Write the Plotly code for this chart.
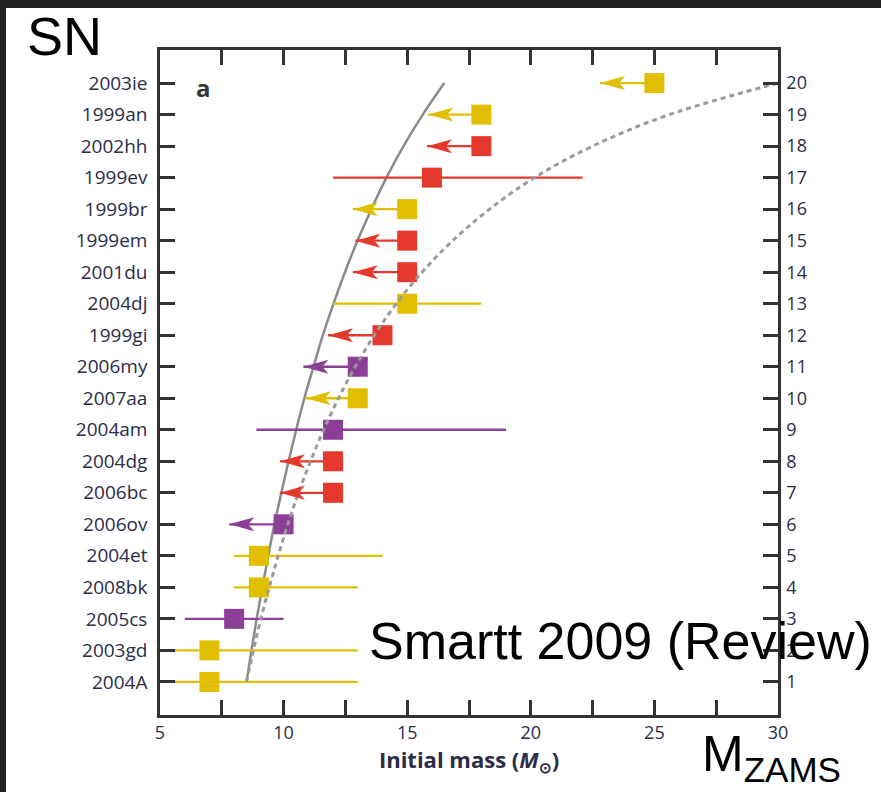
import plotly.graph_objects as go

# Progenitor supernovae, ordered by rank (1 = lowest mass)
sn_names = ["2004A", "2003gd", "2005cs", "2008bk", "2004et", "2006ov", "2006bc",
            "2004dg", "2004am", "2007aa", "2006my", "1999gi", "2004dj", "2001du",
            "1999em", "1999br", "1999ev", "2002hh", "1999an", "2003ie"]
rank = list(range(1, 21))
mass = [7, 7, 8, 9, 9, 10, 12, 12, 12, 13, 13, 14, 15, 15, 15, 15, 16, 18, 18, 25]
group = ["Y", "Y", "P", "Y", "Y", "P", "R", "R", "P", "Y",
         "P", "R", "Y", "R", "R", "Y", "R", "R", "Y", "Y"]
# lower end of the mass range, or the arrow tip for upper limits
mass_low = [5.6, 5.6, 6.0, 8.0, 8.0, 7.8, 9.85, 9.85, 8.9, 10.9,
            10.8, 11.8, 12.0, 12.8, 12.9, 12.8, 12.0, 15.8, 15.85, 22.8]
# upper end of the mass range; None marks an upper limit (arrow)
mass_high = [13.0, 13.0, 10.0, 13.0, 14.0, None, None, None, 19.0, None,
             None, None, 18.0, None, None, None, 22.1, None, None, None]

# expected mass of the n-th progenitor for two IMF mass windows
curve_rank = list(range(1, 21))
solid_curve_mass = [8.5, 8.70, 8.91, 9.14, 9.38, 9.63, 9.91, 10.20, 10.51, 10.84,
                    11.21, 11.59, 12.02, 12.48, 12.99, 13.55, 14.16, 14.85, 15.63, 16.5]
dashed_curve_mass = [8.5, 8.78, 9.08, 9.42, 9.78, 10.17, 10.60, 11.09, 11.62, 12.22,
                     12.90, 13.67, 14.56, 15.60, 16.84, 18.33, 20.15, 22.50, 25.60, 30.0]

x_ticks = [5, 10, 15, 20, 25, 30]

group_colors = {"Y": "#DFBF00", "R": "#E5392D", "P": "#8C3F97"}
axis_font = "Open Sans, Liberation Sans, sans-serif"
label_color = "#2c2c48"
frame_color = "#333333"

fig = go.Figure()

fig.add_trace(go.Scatter(
    x=solid_curve_mass, y=curve_rank, mode="lines", line_shape="spline",
    line=dict(color="#8a8a8a", width=2.5, smoothing=1.0), hoverinfo="skip",
    showlegend=False))
fig.add_trace(go.Scatter(
    x=dashed_curve_mass, y=curve_rank, mode="lines", line_shape="spline",
    line=dict(color="#9a9a9a", width=3, dash="5px,4px"), hoverinfo="skip",
    showlegend=False, yaxis="y2"))

shapes = []
for g, col in group_colors.items():
    xs, ys = [], []
    for i in range(len(rank)):
        if group[i] != g:
            continue
        right = mass_high[i] if mass_high[i] is not None else mass[i]
        xs += [mass_low[i], right, None]
        ys += [rank[i], rank[i], None]
        if mass_high[i] is None:
            shapes.append(dict(
                type="path", xref="x", yref="y",
                xsizemode="pixel", ysizemode="pixel",
                xanchor=mass_low[i], yanchor=rank[i],
                path="M0,0 L25,7 L19,0 L25,-7 Z",
                fillcolor=col, line=dict(width=0)))
    fig.add_trace(go.Scatter(x=xs, y=ys, mode="lines",
                             line=dict(color=col, width=2.3),
                             hoverinfo="skip", showlegend=False))

for g, col in group_colors.items():
    idx = [i for i in range(len(rank)) if group[i] == g]
    fig.add_trace(go.Scatter(
        x=[mass[i] for i in idx], y=[rank[i] for i in idx], mode="markers",
        marker=dict(symbol="square", size=20, color=col, line=dict(width=0)),
        text=[sn_names[i] for i in idx], showlegend=False))

# page background: dark strip on top and left
shapes.insert(0, dict(type="rect", xref="paper", yref="paper",
                      x0=-0.2492, x1=1.17, y0=-0.12, y1=1.0632,
                      fillcolor="white", line=dict(width=0), layer="below"))

y_range = [-0.05, 21.05]

fig.update_layout(
    width=881, height=792,
    margin=dict(l=160, r=103, t=50, b=77),
    paper_bgcolor="#222222", plot_bgcolor="white",
    shapes=shapes,
    font=dict(family=axis_font, color=label_color),
    xaxis=dict(
        range=[5, 30], tickvals=x_ticks, ticktext=[str(v) for v in x_ticks],
        ticks="inside", ticklen=15, tickwidth=2.5, tickcolor=frame_color,
        showline=True, linewidth=2.5, linecolor=frame_color, mirror="allticks",
        showgrid=False, zeroline=False,
        minor=dict(tickvals=[7.5, 12.5, 17.5, 22.5, 27.5], ticks="inside",
                   ticklen=9, tickwidth=2.5, tickcolor=frame_color, showgrid=False),
        tickfont=dict(size=18, color=label_color),
        title=dict(text="<b>Initial mass (<i>M</i><sub>⊙</sub>)</b>",
                   font=dict(size=22, color=label_color), standoff=8),
    ),
    yaxis=dict(
        range=y_range, tickvals=rank, ticktext=sn_names,
        ticks="inside", ticklen=15, tickwidth=2.5, tickcolor=frame_color,
        showline=True, linewidth=2.5, linecolor=frame_color,
        showgrid=False, zeroline=False,
        tickfont=dict(size=19, color=label_color), ticklabelstandoff=6,
    ),
    yaxis2=dict(
        range=y_range, overlaying="y", side="right",
        tickvals=rank, ticktext=[str(r) for r in rank],
        ticks="inside", ticklen=15, tickwidth=2.5, tickcolor=frame_color,
        showline=True, linewidth=2.5, linecolor=frame_color,
        showgrid=False, zeroline=False,
        tickfont=dict(size=18, color=label_color), ticklabelstandoff=2,
    ),
    annotations=[
        dict(text="SN", xref="paper", yref="paper", x=-0.218, y=1.021,
             xanchor="left", yanchor="middle", showarrow=False,
             font=dict(family="Liberation Sans, Arial, sans-serif", size=54, color="black")),
        dict(text="<b>a</b>", xref="paper", yref="paper", x=0.07, y=0.943,
             xanchor="center", yanchor="middle", showarrow=False,
             font=dict(family=axis_font, size=24, color="#333333")),
        dict(text="Smartt 2009 (Review)", xref="paper", yref="paper",
             x=0.335, y=0.112, xanchor="left", yanchor="middle", showarrow=False,
             font=dict(family="Liberation Sans, Arial, sans-serif", size=52, color="black")),
        dict(text="M<sub>ZAMS</sub>", xref="paper", yref="paper",
             x=0.874, y=-0.064, xanchor="left", yanchor="middle", showarrow=False,
             font=dict(family="Liberation Sans, Arial, sans-serif", size=50, color="black")),
    ],
)

fig.write_html("out.html")
